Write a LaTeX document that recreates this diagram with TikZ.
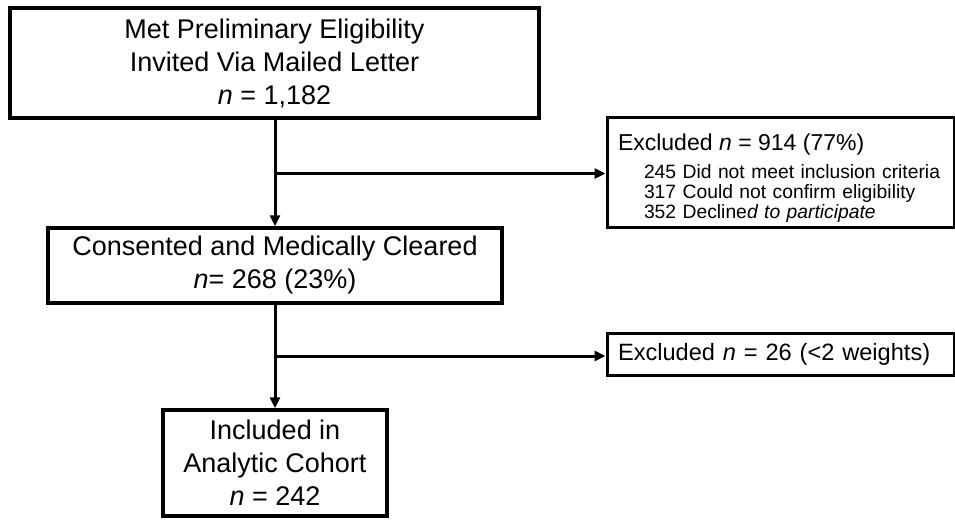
\documentclass[tikz,border=0pt]{standalone}
\usepackage{fontspec}
\setmainfont{Liberation Sans}
\usetikzlibrary{arrows.meta}

\begin{document}
\begin{tikzpicture}[x=1pt, y=-1pt, line width=3pt, >={Triangle[length=11pt,width=10pt]},
      box/.style={draw, line width=3.5pt, align=center, inner sep=0pt,
                  font=\fontsize{27}{33}\selectfont},
      exbox/.style={draw, line width=3pt, align=left, inner xsep=11pt, inner ysep=0pt,
                    text width=325pt, minimum width=347pt}]
      \useasboundingbox (0,0) rectangle (955,519);

      % main column
      \node[box, minimum width=529pt, minimum height=110pt] (met)  at (274.5,63)
            {Met Preliminary Eligibility\\Invited Via Mailed Letter\\\textit{n} = 1,182};
      \node[box, minimum width=454pt, minimum height=75pt]  (cons) at (275,265.5)
            {Consented and Medically Cleared\\\textit{n}= 268 (23\%)};
      \node[box, minimum width=224pt, minimum height=106pt] (incl) at (275,463)
            {Included in\\Analytic Cohort\\\textit{n} = 242};

      % exclusions
      \node[exbox, minimum height=110pt,
            font={\fontsize{19.3}{20}\selectfont\lineskiplimit=-100pt}] (ex1) at (780.5,172.5)
            {{\fontsize{23}{20}\selectfont\rule{0pt}{28pt}Excluded \textit{n} = 914 (77\%)}\\[8pt]
             \hspace*{26pt}245 Did not meet inclusion criteria\\
             \hspace*{26pt}317 Could not confirm eligibility\\
             \hspace*{26pt}352 Decline\textit{d to participate}};
      \node[exbox, minimum height=42pt, font=\fontsize{23.6}{28}\selectfont] (ex2) at (780.5,354)
            {Excluded \textit{n} = 26 (<2 weights)};

      \coordinate (b1) at (275,173.5);
      \coordinate (b2) at (275,356);

      \draw[->] (met.south -| cons.north) -- (cons.north);
      \draw[->] (b1) -- (ex1.west |- b1);
      \draw[->] (cons.south) -- (incl.north);
      \draw[->] (b2) -- (ex2.west |- b2);
\end{tikzpicture}
\end{document}
